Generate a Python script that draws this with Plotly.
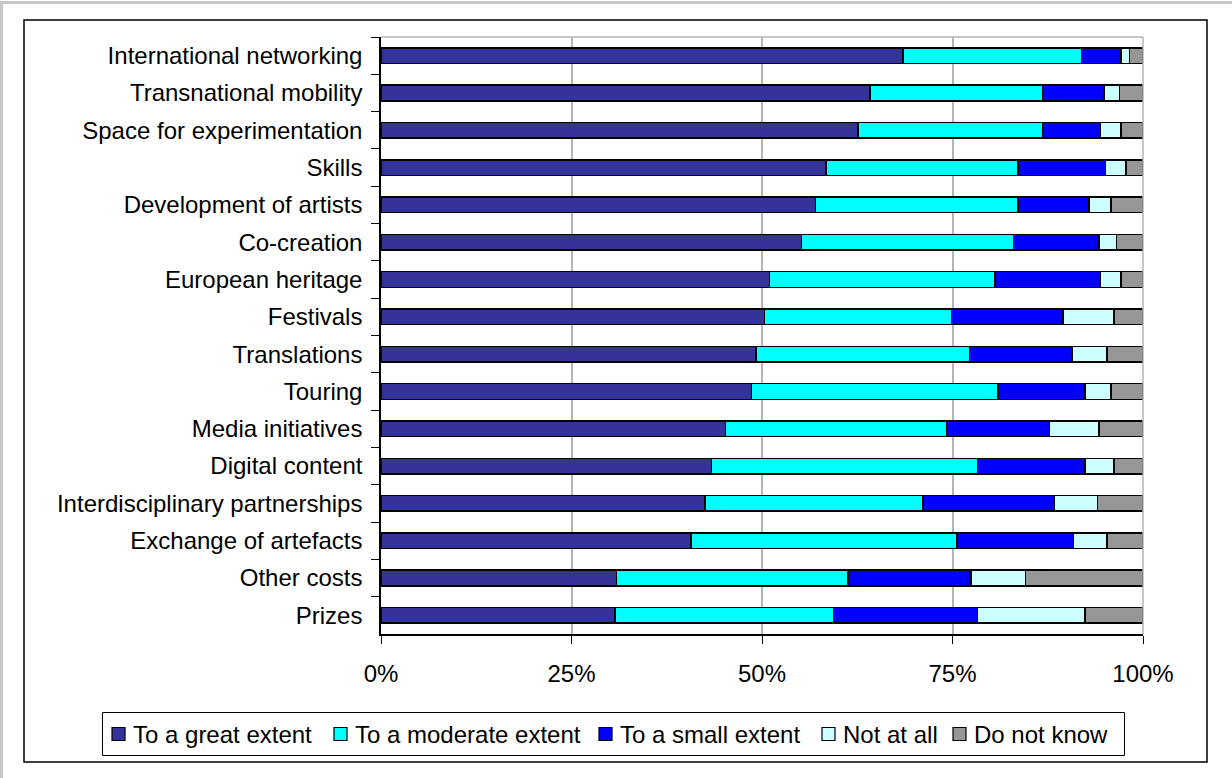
import plotly.graph_objects as go

# Activities, listed top to bottom
categories = [
    "International networking", "Transnational mobility", "Space for experimentation",
    "Skills", "Development of artists", "Co-creation", "European heritage", "Festivals",
    "Translations", "Touring", "Media initiatives", "Digital content",
    "Interdisciplinary partnerships", "Exchange of artefacts", "Other costs", "Prizes",
]

# Share of respondents (%) per answer
great    = [68.5, 64.2, 62.6, 58.4, 57.0, 55.2, 51.0, 50.3, 49.2, 48.6, 45.2, 43.4, 42.5, 40.7, 30.9, 30.7]
moderate = [23.4, 22.6, 24.2, 25.2, 26.6, 27.8, 29.6, 24.6, 28.0, 32.4, 29.0, 34.9, 28.6, 34.9, 30.4, 28.7]
small    = [5.2, 8.1, 7.6, 11.5, 9.3, 11.2, 13.8, 14.6, 13.5, 11.4, 13.5, 14.1, 17.3, 15.3, 16.1, 18.9]
not_all  = [1.1, 2.0, 2.7, 2.7, 2.9, 2.3, 2.7, 6.7, 4.6, 3.4, 6.5, 3.8, 5.6, 4.4, 7.2, 14.1]
dont_know = [1.8, 3.1, 2.9, 2.2, 4.2, 3.5, 2.9, 3.8, 4.7, 4.2, 5.8, 3.8, 6.0, 4.7, 15.4, 7.6]

series_names = ["To a great extent", "To a moderate extent", "To a small extent",
                "Not at all", "Do not know"]
series_values = [great, moderate, small, not_all, dont_know]
series_colors = ["#333399", "#00FFFF", "#0000FF", "#CCFFFF", "#969696"]

tick_vals = [0, 25, 50, 75, 100]
tick_text = ["0%", "25%", "50%", "75%", "100%"]

FONT = "Liberation Sans, Arial, sans-serif"

fig = go.Figure()
for name, vals, color in zip(series_names, series_values, series_colors):
    fig.add_trace(go.Bar(
        name=name, y=categories, x=vals, orientation="h", showlegend=False,
        marker=dict(color=color, line=dict(color="#000000", width=1.5)),
    ))

W, H = 1232, 778
L, R, T, B = 381, 89, 37, 144
pw, ph = W - L - R, H - T - B


def px(x):
    return (x - L) / pw


def py(y):
    return (H - B - y) / ph


shapes = [
    # plot area top and right edges
    dict(type="line", xref="paper", yref="paper", x0=0, x1=1, y0=1, y1=1,
         line=dict(color="#B4B4B4", width=1.5)),
    dict(type="line", xref="paper", yref="paper", x0=1, x1=1, y0=0, y1=1,
         line=dict(color="#B4B4B4", width=1.5)),
    # chart frame
    dict(type="rect", xref="paper", yref="paper",
         x0=px(24), x1=px(1207), y0=py(762), y1=py(20),
         line=dict(color="black", width=1.5), layer="below"),
    # outer border
    dict(type="rect", xref="paper", yref="paper",
         x0=px(1.5), x1=px(1300), y0=py(900), y1=py(2.5),
         line=dict(color="#C8C8C8", width=3), layer="below"),
    # legend box
    dict(type="rect", xref="paper", yref="paper",
         x0=px(102.5), x1=px(1124.5), y0=py(755.5), y1=py(712.5),
         line=dict(color="black", width=1), fillcolor="white", layer="below"),
]
annotations = []

# legend entries: swatch left edge for each series
legend_x = [112, 334, 599, 822, 953]
legend_cy = 734
for name, color, x0 in zip(series_names, series_colors, legend_x):
    shapes.append(dict(
        type="rect", xref="paper", yref="paper",
        x0=px(x0), x1=px(x0 + 13), y0=py(legend_cy + 6.5), y1=py(legend_cy - 6.5),
        fillcolor=color, line=dict(color="black", width=1.2),
    ))
    annotations.append(dict(
        text=name, xref="paper", yref="paper", x=px(x0 + 19), y=py(legend_cy),
        xanchor="left", yanchor="middle", showarrow=False,
        font=dict(size=24, family=FONT, color="black"),
    ))

fig.update_layout(
    width=W, height=H,
    barmode="stack", barnorm="percent", bargap=0.58,
    margin=dict(l=L, r=R, t=T, b=B),
    paper_bgcolor="white", plot_bgcolor="white",
    font=dict(family=FONT, size=24, color="black"),
    showlegend=False,
    xaxis=dict(
        range=[0, 100], tickvals=tick_vals, ticktext=tick_text,
        showgrid=True, gridcolor="#B4B4B4", gridwidth=1.5,
        showline=True, linecolor="black", linewidth=1.5,
        ticks="outside", ticklen=8, tickcolor="black",
        ticklabelstandoff=9, zeroline=False,
        tickfont=dict(size=24),
    ),
    yaxis=dict(
        autorange="reversed",
        showline=True, linecolor="black", linewidth=1.5,
        ticks="outside", ticklen=8, tickcolor="black", tickson="boundaries",
        ticklabelstandoff=12, showgrid=False,
        tickfont=dict(size=24),
    ),
    shapes=shapes,
    annotations=annotations,
)

fig.write_html("out.html")
